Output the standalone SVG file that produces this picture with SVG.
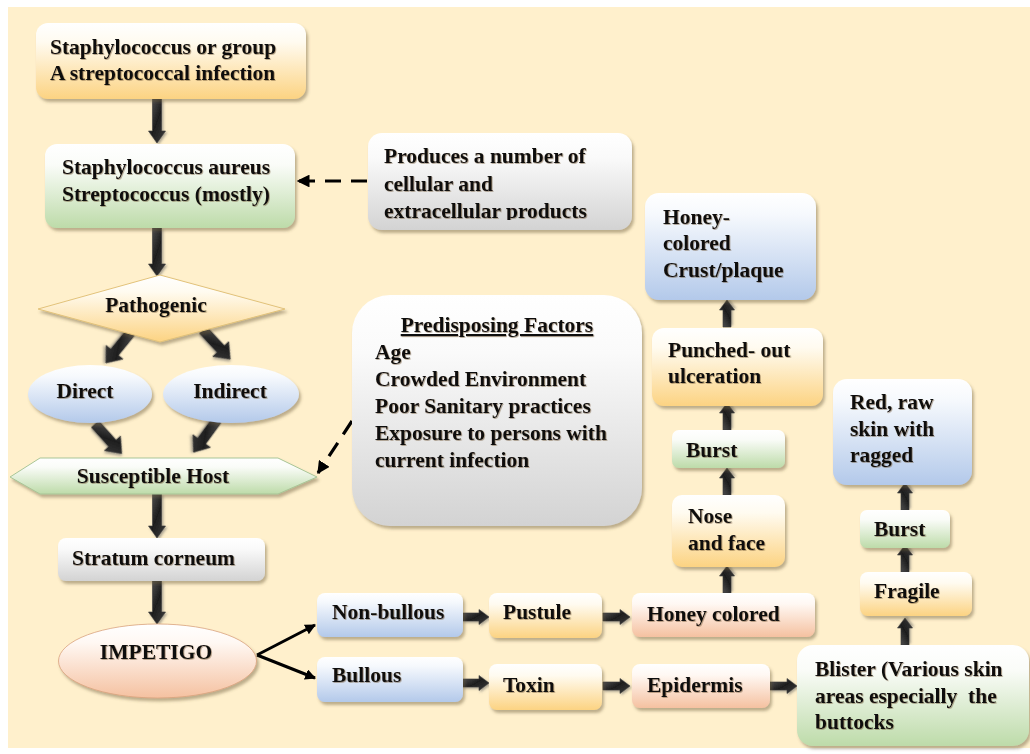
<svg xmlns="http://www.w3.org/2000/svg" width="1030" height="754" viewBox="0 0 1030 754">
<defs>
<style>
.t{font-family:"Liberation Serif","Times New Roman",serif;font-weight:bold;font-size:21.5px;fill:#111;filter:url(#ts)}
.c{text-anchor:middle}
.blk{fill:url(#gDark);stroke:#3a3a3a;stroke-width:0.6;filter:url(#as)}
.dash{fill:none;stroke:#000;stroke-width:3.2;stroke-dasharray:16 10}
.thin{fill:none;stroke:#000;stroke-width:3}
.shape{filter:url(#bs)}
</style>
<linearGradient id="gYellow" x1="0" y1="0" x2="0" y2="1"><stop offset="0" stop-color="#FFFFFF"/><stop offset="0.25" stop-color="#FFFBF0"/><stop offset="1" stop-color="#FCD382"/></linearGradient>
<linearGradient id="gGreen" x1="0" y1="0" x2="0" y2="1"><stop offset="0" stop-color="#FFFFFF"/><stop offset="0.25" stop-color="#FAFCF8"/><stop offset="1" stop-color="#BDDBA9"/></linearGradient>
<linearGradient id="gGray" x1="0" y1="0" x2="0" y2="1"><stop offset="0" stop-color="#FFFFFF"/><stop offset="0.25" stop-color="#FAFAFA"/><stop offset="1" stop-color="#D3D3D3"/></linearGradient>
<linearGradient id="gBlue" x1="0" y1="0" x2="0" y2="1"><stop offset="0" stop-color="#FFFFFF"/><stop offset="0.2" stop-color="#F6F9FD"/><stop offset="1" stop-color="#B3C9EA"/></linearGradient>
<linearGradient id="gPeach" x1="0" y1="0" x2="0" y2="1"><stop offset="0" stop-color="#FFFFFF"/><stop offset="0.25" stop-color="#FFF8F3"/><stop offset="1" stop-color="#F5C1A0"/></linearGradient>
<linearGradient id="gDark" x1="0" y1="0" x2="1" y2="1"><stop offset="0" stop-color="#5a5a5a"/><stop offset="0.5" stop-color="#1e1e1e"/><stop offset="1" stop-color="#3c3c3c"/></linearGradient>
<filter id="bs" x="-10%" y="-10%" width="125%" height="130%"><feDropShadow dx="2" dy="3" stdDeviation="1.6" flood-color="#6b5a3c" flood-opacity="0.45"/></filter>
<filter id="as" x="-30%" y="-30%" width="160%" height="160%"><feDropShadow dx="1.5" dy="1.5" stdDeviation="1.2" flood-color="#555" flood-opacity="0.5"/></filter>
<filter id="ts" x="-5%" y="-20%" width="110%" height="140%"><feDropShadow dx="0.8" dy="0.8" stdDeviation="0.7" flood-color="#6a5030" flood-opacity="0.55"/></filter>
<marker id="ah" viewBox="0 0 10 10" refX="9" refY="5" markerWidth="4" markerHeight="4" orient="auto" markerUnits="strokeWidth"><path d="M0,0 L10,5 L0,10 Z" fill="#000"/></marker>
<marker id="ah2" viewBox="0 0 10 10" refX="9" refY="5" markerWidth="3.6" markerHeight="3.6" orient="auto" markerUnits="strokeWidth"><path d="M0,0 L10,5 L0,10 Z" fill="#000"/></marker>
<polygon id="diag" points="0,-5 26,-5 26,-11 40,0 26,11 26,5 0,5"/>
<polygon id="sm" points="0,-4 17,-4 17,-7.5 27,0 17,7.5 17,4 0,4"/>
<clipPath id="clipProd"><rect x="368" y="133" width="264" height="87"/></clipPath>
</defs>

<rect x="0" y="0" width="1030" height="754" fill="#FFFFFF"/>
<rect x="8" y="7" width="1022" height="741" fill="#FFF0CC"/>

<g id="connectors">
  <polygon class="blk" points="152.5,99 161.5,99 161.5,131 165.5,131 157,143 148.5,131 152.5,131"/>
  <polygon class="blk" points="152.5,228 161.5,228 161.5,264 165.5,264 157,276 148.5,264 152.5,264"/>
  <polygon class="blk" points="152.5,494 161.5,494 161.5,526 165.5,526 157,538 148.5,526 152.5,526"/>
  <polygon class="blk" points="152.5,581 161.5,581 161.5,612 165.5,612 157,624 148.5,612 152.5,612"/>
  <use href="#diag" class="blk" transform="translate(131,332) rotate(129)"/>
  <use href="#diag" class="blk" transform="translate(203,330) rotate(47)"/>
  <use href="#diag" class="blk" transform="translate(95,424) rotate(48)"/>
  <use href="#diag" class="blk" transform="translate(217,420) rotate(126)"/>
  <line class="dash" x1="367" y1="181" x2="298" y2="181" marker-end="url(#ah)"/>
  <line class="dash" x1="352" y1="421" x2="318" y2="473" marker-end="url(#ah)"/>
  <line class="thin" x1="257" y1="655" x2="315" y2="625" marker-end="url(#ah2)"/>
  <line class="thin" x1="257" y1="655" x2="315" y2="678" marker-end="url(#ah2)"/>
  <use href="#sm" class="blk" transform="translate(462,617)"/>
  <use href="#sm" class="blk" transform="translate(462,683)"/>
  <use href="#sm" class="blk" transform="translate(603,617)"/>
  <use href="#sm" class="blk" transform="translate(603,686)"/>
  <use href="#sm" class="blk" transform="translate(770,686)"/>
  <use href="#sm" class="blk" transform="translate(727,593) rotate(-90)"/>
  <use href="#sm" class="blk" transform="translate(727,495) rotate(-90)"/>
  <use href="#sm" class="blk" transform="translate(727,430) rotate(-90)"/>
  <use href="#sm" class="blk" transform="translate(727,327) rotate(-90)"/>
  <use href="#sm" class="blk" transform="translate(905,645) rotate(-90)"/>
  <use href="#sm" class="blk" transform="translate(905,572) rotate(-90)"/>
  <use href="#sm" class="blk" transform="translate(905,510) rotate(-90)"/>
</g>

<g id="n-infection">
  <rect class="shape" x="36" y="23" width="270" height="76" rx="12" fill="url(#gYellow)"/>
  <text class="t" x="50" y="54">Staphylococcus or group</text>
  <text class="t" x="50" y="80">A streptococcal infection</text>
</g>
<g id="n-organisms">
  <rect class="shape" x="45" y="144" width="250" height="84" rx="12" fill="url(#gGreen)"/>
  <text class="t" x="62" y="174">Staphylococcus aureus</text>
  <text class="t" x="62" y="201">Streptococcus (mostly)</text>
</g>
<g id="n-products">
  <rect class="shape" x="368" y="133" width="264" height="97" rx="14" fill="url(#gGray)"/>
  <g clip-path="url(#clipProd)">
  <text class="t" x="384" y="163">Produces a number of</text>
  <text class="t" x="384" y="191">cellular  and</text>
  <text class="t" x="384" y="218">extracellular products</text>
  </g>
</g>
<g id="n-pathogenic">
  <polygon class="shape" points="160,275 285,309 160,342 38,309" fill="url(#gYellow)" stroke="#E2C27A" stroke-width="1"/>
  <text class="t c" x="156" y="312">Pathogenic</text>
</g>
<g id="n-direct">
  <ellipse class="shape" cx="90" cy="394" rx="62" ry="29" fill="url(#gBlue)"/>
  <text class="t c" x="85" y="398">Direct</text>
</g>
<g id="n-indirect">
  <ellipse class="shape" cx="231" cy="394" rx="68" ry="29" fill="url(#gBlue)"/>
  <text class="t c" x="230" y="398">Indirect</text>
</g>
<g id="n-host">
  <polygon class="shape" points="10,477 40,458 278,458 317,477 278,494 40,494" fill="url(#gGreen)" stroke="#A9C596" stroke-width="1"/>
  <text class="t c" x="153" y="483">Susceptible Host</text>
</g>
<g id="n-predisposing">
  <rect class="shape" x="352" y="295" width="290" height="231" rx="38" fill="url(#gGray)"/>
  <text class="t c" x="497" y="332" text-decoration="underline">Predisposing Factors</text>
  <text class="t" x="375" y="359">Age</text>
  <text class="t" x="375" y="386">Crowded Environment</text>
  <text class="t" x="375" y="413">Poor Sanitary practices</text>
  <text class="t" x="375" y="440">Exposure to persons with</text>
  <text class="t" x="375" y="467">current infection</text>
</g>
<g id="n-stratum">
  <rect class="shape" x="58" y="538" width="207" height="43" rx="8" fill="url(#gGray)"/>
  <text class="t" x="72" y="565">Stratum corneum</text>
</g>
<g id="n-impetigo">
  <ellipse class="shape" cx="157.5" cy="661" rx="99" ry="37" fill="url(#gPeach)" stroke="#D9A27C" stroke-width="0.8"/>
  <text class="t c" x="156" y="659">IMPETIGO</text>
</g>
<g id="n-nonbullous">
  <rect class="shape" x="317" y="593" width="146" height="44" rx="8" fill="url(#gBlue)"/>
  <text class="t" x="332" y="619">Non-bullous</text>
</g>
<g id="n-bullous">
  <rect class="shape" x="317" y="657" width="146" height="45" rx="8" fill="url(#gBlue)"/>
  <text class="t" x="332" y="682">Bullous</text>
</g>
<g id="n-pustule">
  <rect class="shape" x="489" y="593" width="113" height="45" rx="8" fill="url(#gYellow)"/>
  <text class="t" x="503" y="619">Pustule</text>
</g>
<g id="n-honeycolored">
  <rect class="shape" x="632" y="593" width="183" height="44" rx="8" fill="url(#gPeach)"/>
  <text class="t" x="647" y="621">Honey colored</text>
</g>
<g id="n-toxin">
  <rect class="shape" x="489" y="664" width="113" height="46" rx="8" fill="url(#gYellow)"/>
  <text class="t" x="503" y="692">Toxin</text>
</g>
<g id="n-epidermis">
  <rect class="shape" x="632" y="664" width="138" height="44" rx="8" fill="url(#gPeach)"/>
  <text class="t" x="647" y="692">Epidermis</text>
</g>
<g id="n-blister">
  <rect class="shape" x="797" y="645" width="232" height="101" rx="16" fill="url(#gGreen)"/>
  <text class="t" x="815" y="676">Blister (Various skin</text>
  <text class="t" x="815" y="703" xml:space="preserve">areas especially  the</text>
  <text class="t" x="815" y="729">buttocks</text>
</g>
<g id="n-nose">
  <rect class="shape" x="672" y="495" width="113" height="72" rx="10" fill="url(#gYellow)"/>
  <text class="t" x="688" y="523">Nose</text>
  <text class="t" x="688" y="550">and face</text>
</g>
<g id="n-burst1">
  <rect class="shape" x="672" y="430" width="113" height="38" rx="7" fill="url(#gGreen)"/>
  <text class="t" x="686" y="457">Burst</text>
</g>
<g id="n-punched">
  <rect class="shape" x="652" y="328" width="171" height="78" rx="12" fill="url(#gYellow)"/>
  <text class="t" x="668" y="357">Punched- out</text>
  <text class="t" x="668" y="383">ulceration</text>
</g>
<g id="n-crust">
  <rect class="shape" x="645" y="193" width="171" height="107" rx="14" fill="url(#gBlue)"/>
  <text class="t" x="663" y="224">Honey-</text>
  <text class="t" x="663" y="250">colored</text>
  <text class="t" x="663" y="277">Crust/plaque</text>
</g>
<g id="n-fragile">
  <rect class="shape" x="860" y="572" width="112" height="44" rx="8" fill="url(#gYellow)"/>
  <text class="t" x="874" y="598">Fragile</text>
</g>
<g id="n-burst2">
  <rect class="shape" x="860" y="510" width="90" height="38" rx="7" fill="url(#gGreen)"/>
  <text class="t" x="874" y="536">Burst</text>
</g>
<g id="n-redraw">
  <rect class="shape" x="833" y="379" width="139" height="106" rx="14" fill="url(#gBlue)"/>
  <text class="t" x="850" y="409">Red, raw</text>
  <text class="t" x="850" y="436">skin with</text>
  <text class="t" x="850" y="462">ragged</text>
</g>
</svg>
